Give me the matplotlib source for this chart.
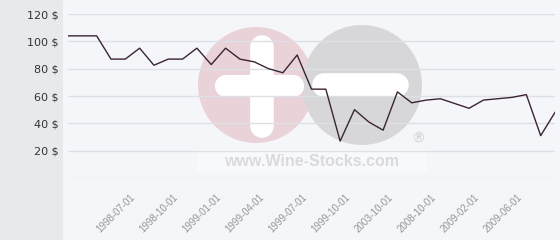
import numpy as np
import matplotlib.pyplot as plt
import matplotlib.transforms as mtransforms
from matplotlib.patches import Circle, Rectangle

# --------------------------
# Data
# --------------------------

prices = [104, 104, 104, 87, 87, 95, 82.5, 87, 87, 95,
          83, 95, 87, 85, 80, 77, 90, 65, 65, 27,
          50, 41, 35, 63, 55, 57, 58, 54.5, 51, 57,
          58, 59, 61, 31, 48]

tick_pos = [4, 7, 10, 13, 16, 19, 22, 25, 28, 31]
tick_labels = ["1998-07-01", "1998-10-01", "1999-01-01", "1999-04-01",
               "1999-07-01", "1999-10-01", "2003-10-01", "2008-10-01",
               "2009-02-01", "2009-06-01"]

y_ticks = [0, 20, 40, 60, 80, 100, 120]
y_labels = ["", "20 $", "40 $", "60 $", "80 $", "100 $", "120 $"]

W, H = 560, 240
fig = plt.figure(figsize=(W / 100, H / 100), dpi=100)
fig.patch.set_facecolor("#f6f7fa")

# --------------------------
# Background + watermark (pixel coordinates)
# --------------------------
bg = fig.add_axes([0, 0, 1, 1], zorder=0)
bg.set_xlim(0, W)
bg.set_ylim(H, 0)
bg.axis("off")
bg.add_patch(Rectangle((0, 0), 63, H, color="#e6eaed", lw=0))
bg.add_patch(Rectangle((63, 0), W - 63, H, color="#f5f6fa", lw=0))

pink = "#e9d2d8"
grey = "#d7d7da"
bg.add_patch(Circle((256, 85), 58, color=pink, lw=0))
bg.plot([262, 262], [47, 126], color="white", lw=17, solid_capstyle="round")
bg.plot([226, 293], [86, 86], color="white", lw=16, solid_capstyle="round")
bg.add_patch(Circle((362, 85), 60, color=grey, lw=0))
bg.plot([324, 397], [85, 85], color="white", lw=17, solid_capstyle="round")
bg.add_patch(Rectangle((197, 150), 230, 22, color="white", alpha=0.4, lw=0))
bg.text(312, 161, "www.Wine-Stocks.com", fontsize=11.5, fontweight="bold",
        color="#dadadc", ha="center", va="center", family="Liberation Sans")
bg.text(418, 139, "®", fontsize=10, color="#d2d2d4", ha="center", va="center")

# --------------------------
# Main chart
# --------------------------
ax = fig.add_axes([68 / W, 62 / H, 487 / W, 164 / H], zorder=1)
ax.patch.set_alpha(0)
x = np.arange(len(prices))
ax.plot(x, prices, color="#3b2433", lw=1.0)

ax.set_xlim(0, len(prices) - 1)
ax.set_ylim(0, 120)
for s in ax.spines.values():
    s.set_visible(False)

ax.set_yticks(y_ticks)
ax.set_yticklabels(y_labels, fontsize=8, color="#333333")
ax.yaxis.grid(True, color="#dde0e5", lw=1)
ax.set_axisbelow(True)

ax.set_xticks(tick_pos)
ax.set_xticklabels(tick_labels, rotation=45, ha="right", va="top",
                   rotation_mode="anchor", fontsize=7, color="#959595",
                   family="Liberation Sans")
ax.tick_params(axis="both", length=0)
ax.tick_params(axis="y", pad=7)
ax.tick_params(axis="x", pad=10)

offset = mtransforms.ScaledTranslation(5 / 100, 0, fig.dpi_scale_trans)
for lab in ax.get_xticklabels():
    lab.set_transform(lab.get_transform() + offset)

fig.savefig("out.png", dpi=100, facecolor=fig.get_facecolor())
